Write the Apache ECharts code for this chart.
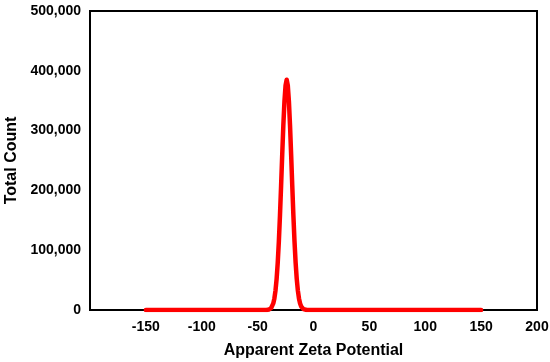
<!DOCTYPE html>
<html>
<head>
<meta charset="utf-8">
<script src="https://cdn.jsdelivr.net/npm/echarts@6/dist/echarts.min.js"></script>
<style>html,body{margin:0;padding:0;background:#fff}#c{width:550px;height:362px}</style>
</head>
<body>
<div id="c"></div>
<script>
const xValues = [-150, -60, -42, -40, -39, -38, -37, -36, -35, -34, -33, -32, -31, -30, -29, -28, -27, -26, -25, -24, -23, -22, -21, -20, -19, -18, -17, -16, -15, -14, -13, -12, -11, -10, -9, -8, -6, 10, 150];
const countValues = [0, 0, 0, 700, 1500, 3000, 5900, 11000, 19400, 32600, 52100, 79300, 114800, 158300, 207700, 259400, 308300, 348800, 375600, 385000, 375600, 348800, 308300, 259400, 207700, 158300, 114800, 79300, 52100, 32600, 19400, 11000, 5900, 3000, 1500, 700, 0, 0, 0];
const xTicks = [-200, -150, -100, -50, 0, 50, 100, 150, 200];
const yTicks = [0, 100000, 200000, 300000, 400000, 500000];
const xTitle = 'Apparent Zeta Potential';
const yTitle = 'Total Count';

const data = xValues.map((x, i) => [x, countValues[i]]);
const font = 'Liberation Sans, Arial, sans-serif';
const chart = echarts.init(document.getElementById('c'));
chart.setOption({
  animation: false,
  grid: { left: 90, right: 13, top: 11, bottom: 52, show: true, borderColor: '#000', borderWidth: 2,
          containLabel: false, outerBoundsMode: 'none' },
  xAxis: {
    type: 'value', min: xTicks[0], max: xTicks[xTicks.length - 1], interval: 50,
    name: xTitle, nameLocation: 'middle', nameGap: 33,
    nameTextStyle: { fontFamily: font, fontWeight: 'bold', fontSize: 16, color: '#000' },
    axisLine: { show: true, onZero: false, lineStyle: { color: '#000', width: 2 } },
    axisTick: { show: false },
    splitLine: { show: false },
    axisLabel: { fontFamily: font, fontWeight: 'bold', fontSize: 14, color: '#000', margin: 10,
      formatter: v => v === xTicks[0] ? '' : String(v) }
  },
  yAxis: {
    type: 'value', min: yTicks[0], max: yTicks[yTicks.length - 1], interval: 100000,
    name: yTitle, nameLocation: 'middle', nameGap: 67, nameRotate: 90,
    nameTextStyle: { fontFamily: font, fontWeight: 'bold', fontSize: 16, color: '#000' },
    axisLine: { show: true, onZero: false, lineStyle: { color: '#000', width: 2 } },
    axisTick: { show: false },
    splitLine: { show: false },
    axisLabel: { fontFamily: font, fontWeight: 'bold', fontSize: 14, color: '#000', margin: 9,
      formatter: v => v.toLocaleString('en-US') }
  },
  series: [{
    type: 'line', data: data, showSymbol: false, smooth: false,
    lineStyle: { color: '#ff0000', width: 4.5, cap: 'round', join: 'round' },
    z: 1
  }]
});
</script>
</body>
</html>
